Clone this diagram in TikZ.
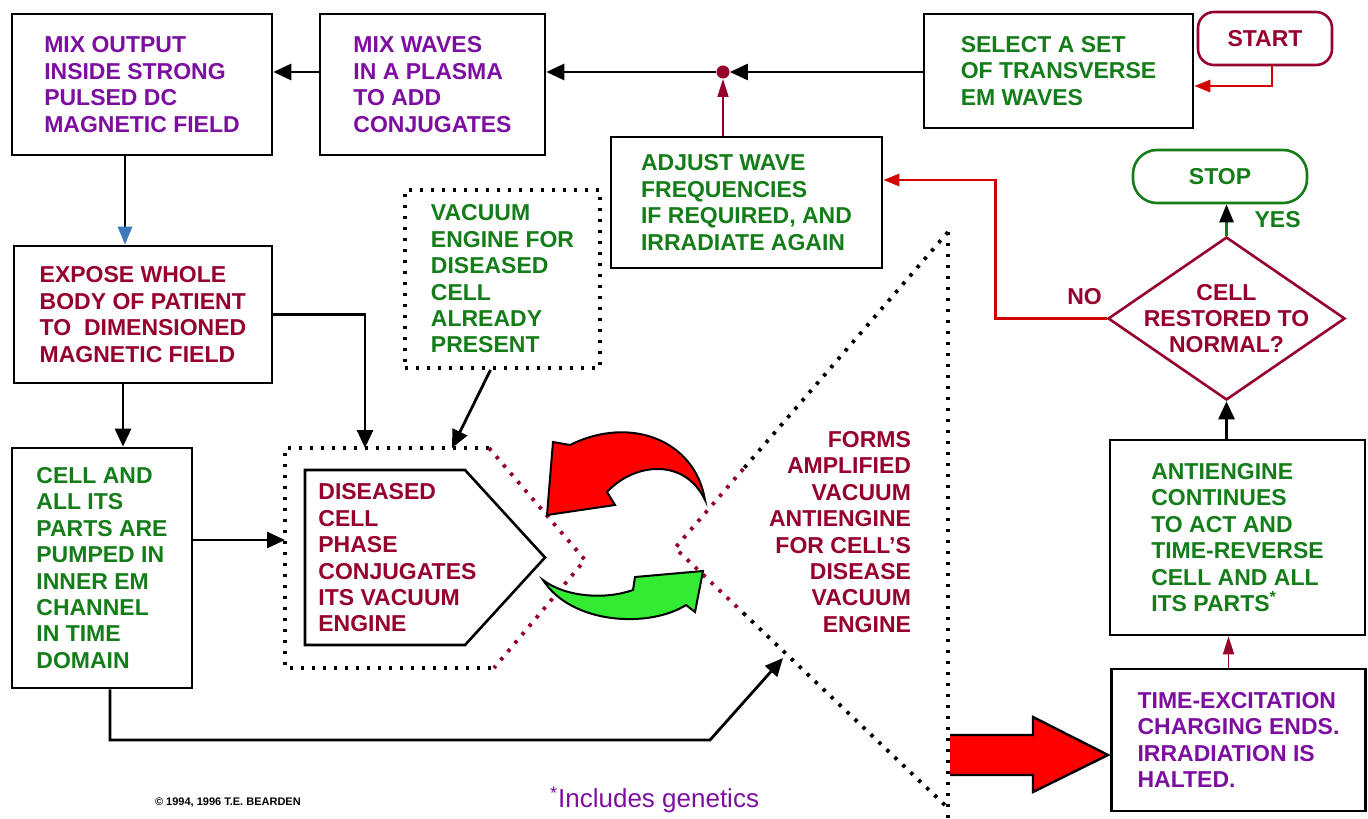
\documentclass[tikz,border=0pt]{standalone}
\usepackage{xcolor}
\usepackage{fontspec}
\setmainfont{Liberation Sans}
\usetikzlibrary{arrows.meta,shapes.geometric,calc}

\definecolor{purp}{RGB}{125,15,160}
\definecolor{grn}{RGB}{20,125,25}
\definecolor{wine}{RGB}{150,0,45}
\definecolor{signalred}{RGB}{210,0,0}
\definecolor{tipblue}{RGB}{60,120,190}
\definecolor{brightgreen}{RGB}{50,235,50}

\begin{document}
\begin{tikzpicture}[x=0.5pt, y=-0.5pt,
    txt/.style={font=\bfseries\fontsize{11.5}{13.2}\selectfont, align=left},
    box/.style={txt, draw, line width=1.3pt, inner sep=2pt},
    flow/.style={line width=1.4pt, -{Triangle[length=9pt,width=8pt]}},
    thinflow/.style={line width=0.8pt, wine, -{Triangle[length=9pt,width=5.5pt]}},
    redflow/.style={line width=1.4pt, signalred, -{Triangle[length=8pt,width=6pt]}},
    dots/.style={line width=1.9pt, dash pattern=on 1.7pt off 3.8pt}]
    \useasboundingbox (0,0) rectangle (1368,818);

    % Linha de cima
    \node[box, text=purp, minimum width=130pt, minimum height=70.5pt] (mixout) at (142,84.5) {MIX OUTPUT\\INSIDE STRONG\\PULSED DC\\MAGNETIC FIELD};
    \node[box, text=purp, minimum width=112.5pt, minimum height=70.5pt] (mixwaves) at (432.5,84.5) {MIX WAVES\\IN A PLASMA\\TO ADD\\CONJUGATES};
    \node[box, text=grn, minimum width=134.5pt, minimum height=57pt] (select) at (1058.5,71) {SELECT A SET\\OF TRANSVERSE\\EM WAVES};
    \node[box, text=wine, draw=wine, rounded corners=8pt, minimum width=67pt, minimum height=26.5pt] (start) at (1265,38.5) {START};
    \node[box, text=grn, minimum width=135.5pt, minimum height=65.5pt] (adjust) at (746.5,202.5) {ADJUST WAVE\\FREQUENCIES\\IF REQUIRED, AND\\IRRADIATE AGAIN};
    \node[box, text=grn, draw=grn, rounded corners=12pt, minimum width=87pt, minimum height=26.5pt] (stop) at (1220,176.5) {STOP};

    % Decisao
    \node[diamond, draw=wine, line width=1.3pt, inner sep=0pt, minimum width=118.5pt, minimum height=81.5pt] (check) at (1226.5,318.5) {};
    \node[txt, text=wine, align=center] (checktext) at (check) {CELL\\RESTORED TO\\NORMAL?};

    % Coluna da direita
    \node[box, text=grn, minimum width=127.5pt, minimum height=97.5pt] (antieng) at (1237.5,537.5) {ANTIENGINE\\CONTINUES\\TO ACT AND\\TIME-REVERSE\\CELL AND ALL\\ITS PARTS\textsuperscript{*}};
    \node[box, text=purp, minimum width=127pt, minimum height=71pt] (timeexc) at (1238.5,740) {TIME-EXCITATION\\CHARGING ENDS.\\IRRADIATION IS\\HALTED.};

    % Coluna da esquerda
    \node[box, text=wine, minimum width=129pt, minimum height=68.5pt] (expose) at (143,314.5) {EXPOSE WHOLE\\BODY OF PATIENT\\TO\ \ DIMENSIONED\\MAGNETIC FIELD};
    \node[box, text=grn, minimum width=90pt, minimum height=120pt] (cellall) at (102,568) {CELL AND\\ALL ITS\\PARTS ARE\\PUMPED IN\\INNER EM\\CHANNEL\\IN TIME\\DOMAIN};
    \node[box, dots, text=grn, minimum width=97.5pt, minimum height=89pt] (vacuum) at (502.5,279) {VACUUM\\ENGINE FOR\\DISEASED\\CELL\\ALREADY\\PRESENT};

    % Celula doente
    \draw[line width=1.3pt] (305,470) -- (465,470) -- (545,557.5) -- (465,645) -- (305,645) -- cycle;
    \node[txt, text=wine, anchor=west, inner sep=0pt] (diseased) at (318,558) {DISEASED\\CELL\\PHASE\\CONJUGATES\\ITS VACUUM\\ENGINE};

    % Contorno pontilhado da maquina de vacuo
    \coordinate (encnw) at (285,448);
    \coordinate (encne) at (489,448);
    \coordinate (enctip) at (585,560);
    \coordinate (encse) at (494,668);
    \coordinate (encsw) at (285,668);
    \coordinate (encw) at (285,540);
    \coordinate (enctop) at (365,448);
    \coordinate (enchit) at (452,448);
    \draw[dots] (encne) -- (encnw) -- (encsw) -- (encse);
    \draw[dots, wine] (encne) -- (enctip) -- (encse);

    % Antimaquina amplificada
    \coordinate (antitop) at (948,232);
    \coordinate (antitip) at (675,548);
    \coordinate (antibot) at (948,808);
    \coordinate (antihit) at (783,658);
    \draw[dots] (antitop) -- (948,818);
    \draw[dots] (antitop) -- ($(antitip)!0.25!(antitop)$);
    \draw[dots, wine] ($(antitip)!0.25!(antitop)$) -- (antitip) -- ($(antitip)!0.25!(antibot)$);
    \draw[dots] ($(antitip)!0.25!(antibot)$) -- (antibot);
    \node[txt, text=wine, align=right, anchor=east] (forms) at (918,532) {FORMS\\AMPLIFIED\\VACUUM\\ANTIENGINE\\FOR CELL'S\\DISEASE\\VACUUM\\ENGINE};

    % Setas curvas
    \filldraw[fill=red, draw=black, line width=1pt] (705,500) .. controls (695,440) and (630,415) .. (570,445) -- (553,442) -- (547,515) -- (615,505) -- (607,492) .. controls (635,462) and (685,458) .. (705,500) -- cycle;
    \filldraw[fill=brightgreen, draw=black, line width=1pt] (543,580) .. controls (565,597) and (605,600) .. (633,590) -- (635,577) -- (703,571) -- (695,612) -- (686,605) .. controls (650,628) and (572,625) .. (543,580) -- cycle;

    % Seta grande
    \fill[red] (950,735) -- (1033,735) -- (1033,717) -- (1108,755) -- (1033,792) -- (1033,775) -- (950,775) -- cycle;
    \draw[line width=1.2pt] (950,735) -- (1033,735) -- (1033,717) -- (1108,755) -- (1033,792) -- (1033,775) -- (950,775);

    % Conexoes
    \node[circle, fill=wine, inner sep=0pt, minimum size=6.5pt] (junction) at (723,72) {};
    \draw[flow] (select.west |- junction) -- (junction);
    \draw[flow] (junction) -- (junction -| mixwaves.east);
    \draw[flow] (mixwaves.west |- junction) -- (junction -| mixout.east);
    \draw[redflow] ([xshift=3.5pt]start.south) |- ([yshift=-7.5pt]select.east);
    \draw[thinflow] (adjust.north -| junction) -- (junction);
    \draw[line width=1.4pt, -{Triangle[length=9pt,width=7pt,color=tipblue]}] ([xshift=-8.5pt]mixout.south) -- ([xshift=-8.5pt]mixout.south |- expose.north);
    \draw[flow] ([xshift=-10pt]expose.south) -- ([xshift=-10pt]expose.south |- cellall.north);
    \draw[flow] (expose.east) -| (enctop);
    \draw[flow] (cellall.east |- encw) -- (encw);
    \draw[flow] ([xshift=-6pt]vacuum.south) -- (enchit);
    \draw[flow] ([xshift=4pt]cellall.south) |- (710,740) -- (antihit);
    \draw[line width=1.4pt, grn, -{Triangle[length=9pt,width=7pt,color=black]}] (check.north) -- node[txt, text=grn, right=10pt] (yes) {YES} (check.north |- stop.south);
    \draw[redflow] (check.west) -- node[txt, text=wine, pos=0.2, above=3pt] (no) {NO} ++(-111,0) |- ([yshift=11.25pt]adjust.east);
    \draw[flow] (check.south |- antieng.north) -- (check.south);
    \draw[thinflow] ([xshift=-5pt]timeexc.north) -- ([xshift=-5pt]timeexc.north |- antieng.south);

    % Rodape
    \node[font=\bfseries\fontsize{5.5}{7}\selectfont, anchor=west] (copyr) at (148,802) {\textcopyright{} 1994, 1996 T.E. BEARDEN};
    \node[font=\fontsize{13}{15}\selectfont, text=purp, anchor=west] (note) at (543,800) {\textsuperscript{*}Includes genetics};
\end{tikzpicture}
\end{document}
